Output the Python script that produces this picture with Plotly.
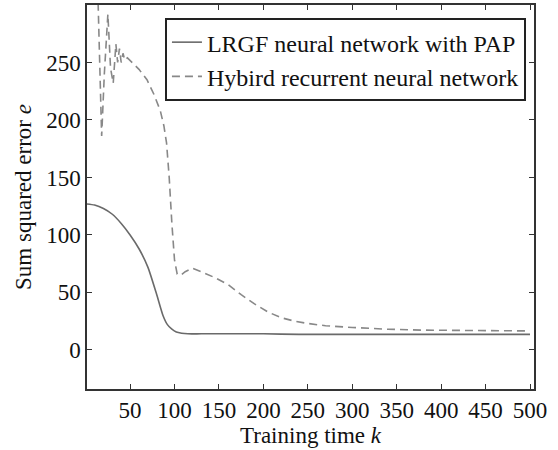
import plotly.graph_objects as go

# Data
k_lrgf = [1, 10, 20, 30, 40, 50, 60, 70, 80, 87, 92, 97, 102, 108, 115, 130, 200, 240, 300, 400, 500]
e_lrgf = [127, 126, 123, 118, 110, 100, 88, 72, 48, 30, 22, 18, 15.5, 14.5, 14, 14, 14, 13.5, 13.5, 13.5, 13.5]

k_hyb = [14, 18, 21, 25, 28, 31, 34, 36, 38, 40, 42, 44, 47, 52, 60, 69, 77, 84, 88, 91, 94, 97, 100, 103,
         107, 112, 120, 130, 145, 160, 175, 190, 205, 220, 235, 250, 270, 300, 340, 380, 420, 460, 500]
e_hyb = [302, 186, 240, 292, 245, 232, 266, 250, 262, 250, 258, 252, 254, 250, 244, 235, 222, 208, 195, 180,
         150, 110, 78, 66, 65, 68, 71, 68, 63, 57, 48, 40, 33, 28, 25, 23, 21, 19.5, 18, 17.2, 16.8, 16.6, 16.5]

x_ticks = [50, 100, 150, 200, 250, 300, 350, 400, 450, 500]
y_ticks = [0, 50, 100, 150, 200, 250]

FONT = "Times New Roman, serif"

fig = go.Figure()
fig.add_trace(go.Scatter(x=k_lrgf, y=e_lrgf, mode="lines", name="LRGF neural network with PAP",
                         line=dict(color="#6a6a6a", width=1.6, shape="spline", smoothing=0.6)))
fig.add_trace(go.Scatter(x=k_hyb, y=e_hyb, mode="lines", name="Hybird recurrent neural network",
                         line=dict(color="#888888", width=1.6, dash="8px,5px")))

fig.update_layout(
    template="none",
    width=558, height=450,
    margin=dict(l=87, r=24, t=5, b=61),
    plot_bgcolor="white", paper_bgcolor="white",
    font=dict(family=FONT, size=23, color="#111"),
    showlegend=True,
    legend=dict(x=0.982, y=0.966, xanchor="right", yanchor="top",
                bgcolor="white", bordercolor="#222", borderwidth=2,
                font=dict(family=FONT, size=24, color="#111"), tracegroupgap=0,
                itemwidth=30),
    xaxis=dict(range=[1.5, 504.5], tickvals=x_ticks, ticks="inside", ticklen=5, tickcolor="#333",
               showline=True, linecolor="#333", linewidth=1.5, mirror="ticks",
               showgrid=False, zeroline=False, tickfont=dict(family=FONT, size=23, color="#111"),
               title=dict(text="Training time <i>k</i>", font=dict(family=FONT, size=23, color="#111"), standoff=3)),
    yaxis=dict(range=[-34, 300], tickvals=y_ticks, ticks="inside", ticklen=5, tickcolor="#333",
               showline=True, linecolor="#333", linewidth=1.5, mirror="ticks",
               showgrid=False, zeroline=False, tickfont=dict(family=FONT, size=23, color="#111"),
               title=dict(text="Sum squared error <i>e</i>", font=dict(family=FONT, size=23, color="#111"), standoff=8)),
)

fig.write_html("out.html")
